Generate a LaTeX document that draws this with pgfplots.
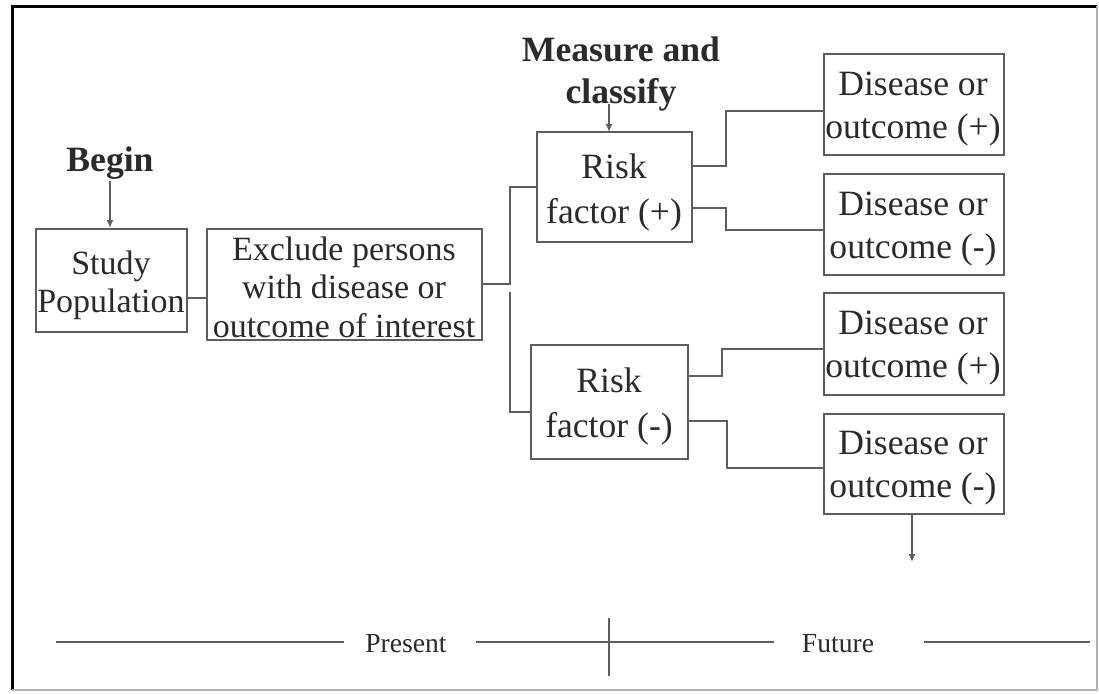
\documentclass[border=0pt]{standalone}
\usepackage{pgfplots}
\pgfplotsset{compat=1.18}
\usepackage{fontspec}
\setmainfont{Liberation Serif}
\usetikzlibrary{arrows.meta}
\definecolor{txt}{HTML}{2A2A2A}
\definecolor{ln}{HTML}{5E5E5E}
\begin{document}
\begin{tikzpicture}
\begin{axis}[
  width=549.5pt, height=346.5pt, scale only axis,
  xmin=0, xmax=1099, ymin=0, ymax=693, y dir=reverse,
  hide axis, clip=false,
  every axis plot/.append style={no markers, line join=miter},
]
% full extent (invisible)
\addplot[draw=none] coordinates {(0,0)(1099,693)};
% frame
\addplot[draw=black, line width=1.5pt] coordinates {(12,690)(12,6)(1097,6)};
\addplot[draw=gray!60, line width=0.6pt] coordinates {(1097,6)(1097,690)(12,690)};
% boxes
\pgfplotsset{bx/.style={draw=ln, line width=0.75pt}}
\addplot[bx] coordinates {(36,229)(187,229)(187,332)(36,332)} --cycle;
\addplot[bx] coordinates {(207,229)(482,229)(482,340)(207,340)} --cycle;
\addplot[bx] coordinates {(537,132)(692,132)(692,242)(537,242)} --cycle;
\addplot[bx] coordinates {(531,345)(688,345)(688,459)(531,459)} --cycle;
\addplot[bx] coordinates {(824,54)(1004,54)(1004,155)(824,155)} --cycle;
\addplot[bx] coordinates {(824,174)(1004,174)(1004,275)(824,275)} --cycle;
\addplot[bx] coordinates {(824,293)(1004,293)(1004,395)(824,395)} --cycle;
\addplot[bx] coordinates {(824,414)(1004,414)(1004,514)(824,514)} --cycle;
% connectors
\addplot[bx] coordinates {(187,298)(207,298)};
\addplot[bx] coordinates {(482,284)(510,284)(510,187)(537,187)};
\addplot[bx] coordinates {(510,292)(510,412)(531,412)};
\addplot[bx] coordinates {(692,166)(726,166)(726,111)(824,111)};
\addplot[bx] coordinates {(692,208)(726,208)(726,230)(824,230)};
\addplot[bx] coordinates {(688,376)(722,376)(722,349)(824,349)};
\addplot[bx] coordinates {(688,421)(727,421)(727,468)(824,468)};
% arrows
\addplot[draw=ln, line width=0.75pt, -{Latex[length=4pt,width=3.5pt]}] coordinates {(110,181)(110,228)};
\addplot[draw=ln, line width=0.75pt, -{Latex[length=4pt,width=3.5pt]}] coordinates {(609,104)(609,132)};
\addplot[draw=ln, line width=0.75pt, -{Latex[length=4pt,width=3.5pt]}] coordinates {(912,514)(912,562)};
% timeline
\pgfplotsset{tl/.style={draw=ln, line width=0.6pt}}
\addplot[tl] coordinates {(56,642)(344,642)};
\addplot[tl] coordinates {(476,642)(774,642)};
\addplot[tl] coordinates {(924,642)(1090,642)};
\addplot[tl] coordinates {(609,618)(609,676)};
% texts
\tikzset{bt/.style={text=txt, align=center, inner sep=0pt}}
\node[bt, font=\bfseries\fontsize{17.8}{21}\selectfont] at (axis cs:110,163) {Begin};
\node[bt, font=\bfseries\fontsize{17.8}{21}\selectfont] at (axis cs:621,74) {Measure and\\classify};
\node[bt, font=\fontsize{17}{19}\selectfont] at (axis cs:111,285) {Study\\Population};
\node[bt, font=\fontsize{17}{19.3}\selectfont] at (axis cs:344,287) {Exclude persons\\with disease or\\outcome of interest};
\node[bt, font=\fontsize{17.8}{22.5}\selectfont] at (axis cs:614,192) {Risk\\factor (+)};
\node[bt, font=\fontsize{17.8}{22.5}\selectfont] at (axis cs:609,406) {Risk\\factor (-)};
\node[bt, font=\fontsize{17.8}{21.5}\selectfont] at (axis cs:913,109) {Disease or\\outcome (+)};
\node[bt, font=\fontsize{17.8}{21.5}\selectfont] at (axis cs:913,229) {Disease or\\outcome (-)};
\node[bt, font=\fontsize{17.8}{21.5}\selectfont] at (axis cs:913,348) {Disease or\\outcome (+)};
\node[bt, font=\fontsize{17.8}{21.5}\selectfont] at (axis cs:913,468) {Disease or\\outcome (-)};
\node[bt, font=\fontsize{13.8}{16}\selectfont] at (axis cs:406,644) {Present};
\node[bt, font=\fontsize{13.8}{16}\selectfont] at (axis cs:838,644) {Future};
\end{axis}
\end{tikzpicture}
\end{document}
